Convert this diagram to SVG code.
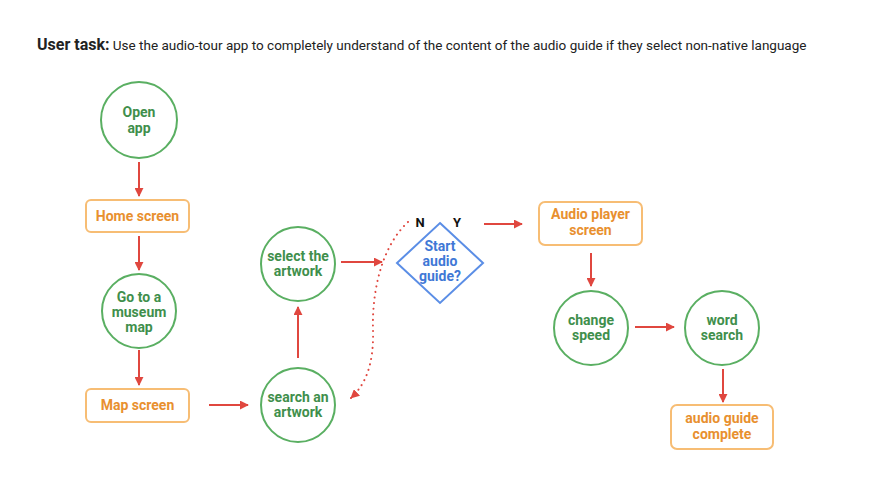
<svg xmlns="http://www.w3.org/2000/svg" width="880" height="495" viewBox="0 0 880 495">
<defs>
<marker id="ah" viewBox="0 0 10 10" refX="9" refY="5" markerWidth="9" markerHeight="9" markerUnits="userSpaceOnUse" orient="auto">
<path d="M0,0 L10,5 L0,10 z" fill="#e0473f"/>
</marker>
</defs>
<style>
.c{fill:#fff;stroke:#5aaf62;stroke-width:2}
.ct{fill:#3f8f4c;font-family:Roboto,"Liberation Sans",sans-serif;font-weight:bold;font-size:14px;text-anchor:middle}
.b{fill:#fff;stroke:#f7bd74;stroke-width:2}
.bt{fill:#e8902f;font-family:Roboto,"Liberation Sans",sans-serif;font-weight:bold;font-size:14px;text-anchor:middle}
.d{fill:#fff;stroke:#5b8ee6;stroke-width:2}
.dt{fill:#3f78d6;font-family:Roboto,"Liberation Sans",sans-serif;font-weight:bold;font-size:14px;text-anchor:middle}
.a{fill:none;stroke:#e0473f;stroke-width:2;marker-end:url(#ah)}
.lb{fill:#111;font-family:Roboto,"Liberation Sans",sans-serif;font-weight:bold;font-size:13px;text-anchor:middle}
</style>
<rect width="880" height="495" fill="#fff"/>
<text x="37" y="50" font-family="Roboto,'Liberation Sans',sans-serif" font-size="13.5" fill="#222"><tspan font-weight="bold" font-size="16">User task:</tspan> Use the audio-tour app to completely understand of the content of the audio guide if they select non-native language</text>

<g id="connectors">
<line class="a" x1="139" y1="162" x2="139" y2="196"/>
<line class="a" x1="139" y1="236" x2="139" y2="270"/>
<line class="a" x1="139" y1="350" x2="139" y2="385"/>
<line class="a" x1="209" y1="405" x2="248" y2="405"/>
<line class="a" x1="298" y1="358" x2="298" y2="307"/>
<line class="a" x1="341" y1="262" x2="382" y2="262"/>
<line class="a" x1="484" y1="224" x2="522" y2="224"/>
<line class="a" x1="591" y1="253" x2="591" y2="286"/>
<line class="a" x1="635" y1="327" x2="674" y2="327"/>
<line class="a" x1="723" y1="369" x2="723" y2="402"/>
<path class="a" d="M408,222 C378,250 372,300 373,330 C374,365 365,385 351,398" stroke-dasharray="0.1 5.5" stroke-linecap="round" stroke-width="2.2"/>
</g>

<g id="open-app"><circle class="c" cx="139" cy="120" r="38"/><text class="ct" x="139" y="117">Open</text><text class="ct" x="139" y="133">app</text></g>
<g id="home-screen"><rect class="b" x="86" y="200" width="103" height="32" rx="5"/><text class="bt" x="137.5" y="221">Home screen</text></g>
<g id="go-to-map"><circle class="c" cx="139" cy="311" r="37"/><text class="ct" x="139" y="302">Go to a</text><text class="ct" x="139" y="317">museum</text><text class="ct" x="139" y="332">map</text></g>
<g id="map-screen"><rect class="b" x="86" y="389" width="103" height="33" rx="5"/><text class="bt" x="137.5" y="410">Map screen</text></g>
<g id="search-artwork"><circle class="c" cx="298" cy="405" r="37"/><text class="ct" x="298" y="402">search an</text><text class="ct" x="298" y="417">artwork</text></g>
<g id="select-artwork"><circle class="c" cx="298" cy="264" r="37"/><text class="ct" x="298" y="261">select the</text><text class="ct" x="298" y="276">artwork</text></g>
<g id="start-audio"><polygon class="d" points="440,223 483,263 440,303 397,263"/><text class="dt" x="440" y="251">Start</text><text class="dt" x="440" y="266">audio</text><text class="dt" x="440" y="281">guide?</text>
<text class="lb" x="420" y="227">N</text><text class="lb" x="457" y="227">Y</text></g>
<g id="audio-player"><rect class="b" x="539" y="202" width="103" height="43" rx="6"/><text class="bt" x="590.5" y="219">Audio player</text><text class="bt" x="590.5" y="235">screen</text></g>
<g id="change-speed"><circle class="c" cx="591" cy="328" r="37"/><text class="ct" x="591" y="325">change</text><text class="ct" x="591" y="340">speed</text></g>
<g id="word-search"><circle class="c" cx="722" cy="328" r="37"/><text class="ct" x="722" y="325">word</text><text class="ct" x="722" y="340">search</text></g>
<g id="audio-complete"><rect class="b" x="671" y="405" width="102" height="44" rx="6"/><text class="bt" x="722" y="423">audio guide</text><text class="bt" x="722" y="439">complete</text></g>
</svg>
